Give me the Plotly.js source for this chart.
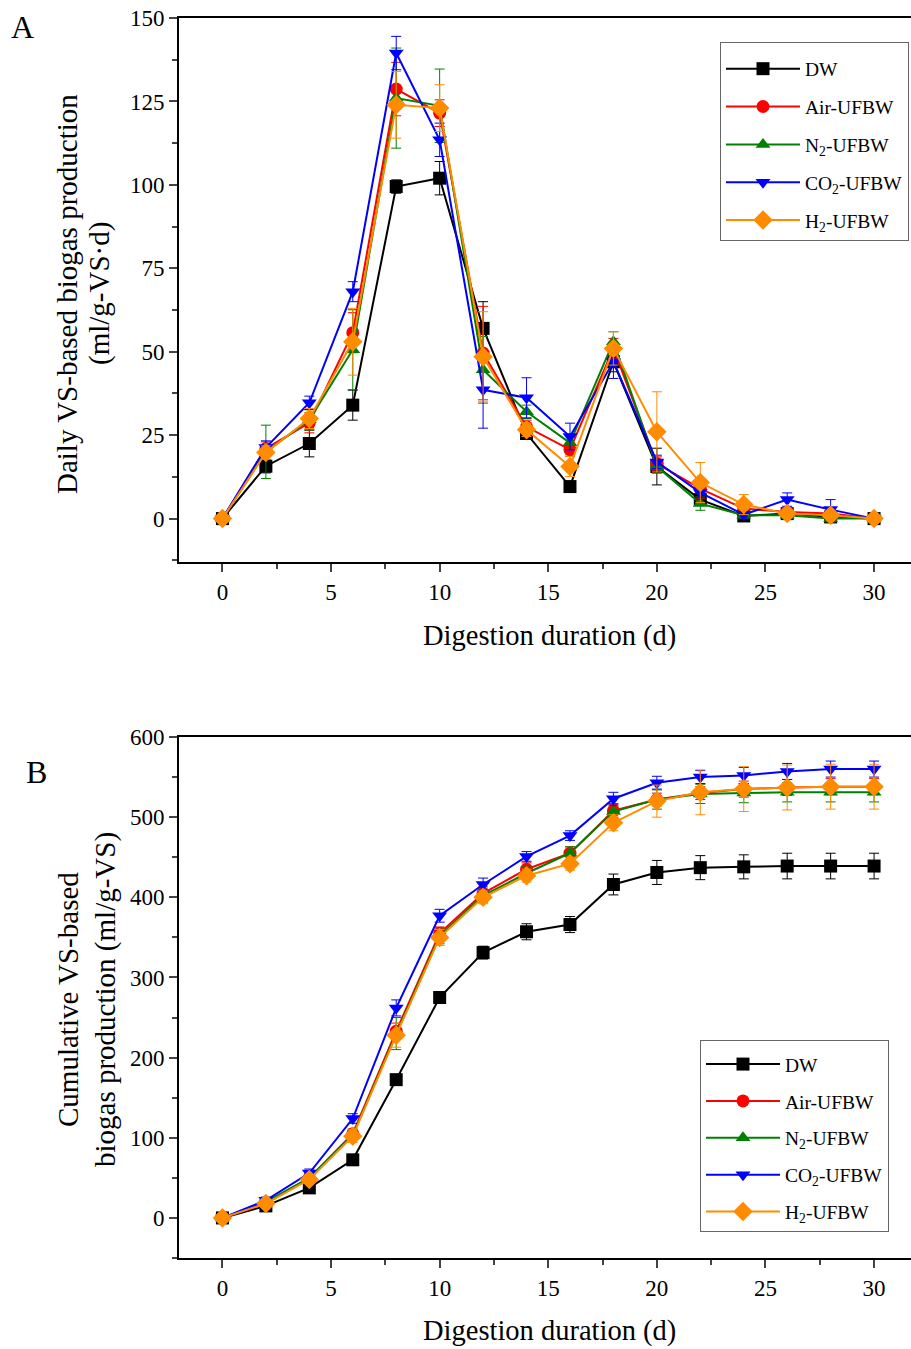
<!DOCTYPE html>
<html><head><meta charset="utf-8">
<script src="https://cdn.plot.ly/plotly-3.0.1.min.js"></script>
<style>html,body{margin:0;padding:0;background:#fff;}#chart{width:911px;height:1349px;}</style>
</head><body><div id="chart"></div>
<script>
const days = [0,2,4,6,8,10,12,14,16,18,20,22,24,26,28,30];
const seriesNames = ['DW','Air-UFBW','N<sub>2</sub>-UFBW','CO<sub>2</sub>-UFBW','H<sub>2</sub>-UFBW'];
const seriesColors = ['#000000','#ff0000','#008000','#0000ff','#ff8c00'];
const seriesSymbols = ['square','circle','triangle-up','triangle-down','diamond'];

// Panel A: daily production
const dailyDW  = [0,15.7,22.5,34,99.5,102,57,25.5,9.6,47,15.6,5.7,0.8,1.5,0.5,0];
const dailyAir = [0,21,28.7,55.7,128.7,121.5,49.6,27.5,20.7,51,16.5,9,3,2,1.5,0];
const dailyN2  = [0,20,29.6,50.6,126,123.7,44.6,32,22.7,53,15.6,4.5,1,1,0,0];
const dailyCO2 = [0,21.3,34.7,68,139.5,113.5,38.6,36.2,24.6,47,17,7.8,1.2,5.7,2.7,0];
const dailyH2  = [0,19.8,30,53,124,123,48.5,26.6,15.6,51,26,10.8,4.2,1.5,1,0];
const dailyErrDW  = [0,2,4,4.5,2,5,8,1.5,1.5,3,5.5,1,1,1,1,0];
const dailyErrAir = [0,2,3,6,8,4,14,2,2,3,2,3,2,1,1,0];
const dailyErrN2  = [0,8,3,12,15,11,10,2,2,3,2,2,1,1,1,0];
const dailyErrCO2 = [0,2,2,3,5,5,11.5,6,4,5,2,2,1,2,3,0];
const dailyErrH2  = [0,2,3,10,10,7,13.5,2,3,5,12,6,3,1,1,0];

// Panel B: cumulative production
const cumDW  = [0,15,37.5,72.5,172.5,275,331,357,366,416,431,437,438,439,439,439];
const cumAir = [0,18,50,105,233,355,405,435,455,508,522,530,535,537,538,538];
const cumN2  = [0,20,50,103,230,352,402,430,455,507,522,529,530,531,531,531];
const cumCO2 = [0,22,56,124,262,377,416,451,477,523,543,550,552,557,560,560];
const cumH2  = [0,18,48,102,228,350,400,427,442,493,520,531,535,537,538,538];
const cumErrDW  = [0,3,5,5,5,5,8,10,10,13,15,15,15,16,16,16];
const cumErrAir = [0,3,5,6,10,8,8,8,8,8,8,8,10,10,10,10];
const cumErrN2  = [0,4,5,6,20,10,8,8,8,10,12,12,12,12,12,12];
const cumErrCO2 = [0,4,5,6,10,8,8,6,6,8,8,8,10,10,10,10];
const cumErrH2  = [0,3,5,8,15,10,8,8,8,10,20,28,28,28,28,28];

const dailyAll = [dailyDW,dailyAir,dailyN2,dailyCO2,dailyH2];
const dailyErrAll = [dailyErrDW,dailyErrAir,dailyErrN2,dailyErrCO2,dailyErrH2];
const cumAll = [cumDW,cumAir,cumN2,cumCO2,cumH2];
const cumErrAll = [cumErrDW,cumErrAir,cumErrN2,cumErrCO2,cumErrH2];

const FONT = 'Liberation Serif, Times New Roman, serif';
const traces = [];
function addSet(vals, errs, yaxis, legend, grpPrefix){
  for (let i=0;i<5;i++){
    traces.push({
      x: days, y: vals[i], type:'scatter', mode:'lines+markers',
      name: seriesNames[i], xaxis: yaxis==='y'?'x':'x2', yaxis: yaxis,
      legend: legend, legendgroup: grpPrefix+i,
      line:{color:seriesColors[i], width:2},
      marker:{symbol:seriesSymbols[i], color:seriesColors[i], size: (seriesSymbols[i]==='diamond'?15:13)},
      error_y:{type:'data', array: errs[i], visible:true, color:seriesColors[i], thickness:1, width:5}
    });
  }
}
addSet(dailyAll, dailyErrAll, 'y', 'legend', 'a');
addSet(cumAll, cumErrAll, 'y2', 'legend2', 'b');

const H = 1349, W = 911;
const xd = [179/W, 1];
const commonX = {
  range:[-2,31.7], tickvals:[0,5,10,15,20,25,30], ticks:'outside', ticklen:8, tickwidth:2,
  showline:true, linewidth:2, linecolor:'#000', mirror:true, showgrid:false, zeroline:false,
  tickfont:{family:FONT,size:23,color:'#000'},
  minor:{dtick:2.5, tick0:0, ticks:'outside', ticklen:5, tickwidth:2, showgrid:false},
  domain: xd
};
const commonY = {
  ticks:'outside', ticklen:8, tickwidth:2, showline:true, linewidth:2, linecolor:'#000', mirror:true,
  showgrid:false, zeroline:false, tickfont:{family:FONT,size:23,color:'#000'}
};
function ann(text, xpx, ypx, size, angle){
  return {text:text, xref:'paper', yref:'paper', x:xpx/W, y:1-ypx/H, xanchor:'center', yanchor:'middle',
    textangle:angle||0, showarrow:false, font:{family:FONT,size:size,color:'#000'}};
}
const legendCommon = {xanchor:'left', yanchor:'top', bordercolor:'#666', borderwidth:1,
  bgcolor:'#fff', font:{family:FONT,size:19.5,color:'#000'}, traceorder:'grouped', itemwidth:74};
const layout = {
  width:W, height:H, margin:{l:0,r:0,t:0,b:0}, paper_bgcolor:'#fff', plot_bgcolor:'#fff',
  showlegend:true, font:{family:FONT,color:'#000'},
  xaxis: Object.assign({}, commonX, {anchor:'y'}),
  xaxis2: Object.assign({}, commonX, {anchor:'y2'}),
  yaxis: Object.assign({}, commonY, {range:[-13,150], dtick:25, tick0:0,
    minor:{dtick:12.5, tick0:0, ticks:'outside', ticklen:5, tickwidth:2, showgrid:false},
    domain:[1-562/H, 1-18/H], anchor:'x'}),
  yaxis2: Object.assign({}, commonY, {range:[-50,600], dtick:100, tick0:0,
    minor:{dtick:50, tick0:0, ticks:'outside', ticklen:5, tickwidth:2, showgrid:false},
    domain:[1-1258/H, 1-737/H], anchor:'x2'}),
  legend: Object.assign({}, legendCommon, {x:720/W, y:1-42/H, tracegroupgap:9.5, title:{text:' ', font:{size:5}}}),
  legend2: Object.assign({}, legendCommon, {x:700/W, y:1-1040/H, tracegroupgap:8.5, title:{text:' ', font:{size:3}}}),
  annotations:[
    ann('A', 22, 27, 32),
    ann('B', 36, 772, 32),
    ann('Daily VS-based biogas production', 67, 294, 29, -90),
    ann('(ml/g-VS·d)', 100, 294, 29, -90),
    ann('Cumulative VS-based', 68, 1000, 29, -90),
    ann('biogas production (ml/g-VS)', 105, 1000, 29, -90),
    ann('Digestion duration (d)', 549, 636, 28.5),
    ann('Digestion duration (d)', 549, 1331, 28.5)
  ]
};
Plotly.newPlot('chart', traces, layout, {displayModeBar:false, staticPlot:true});
</script></body></html>
